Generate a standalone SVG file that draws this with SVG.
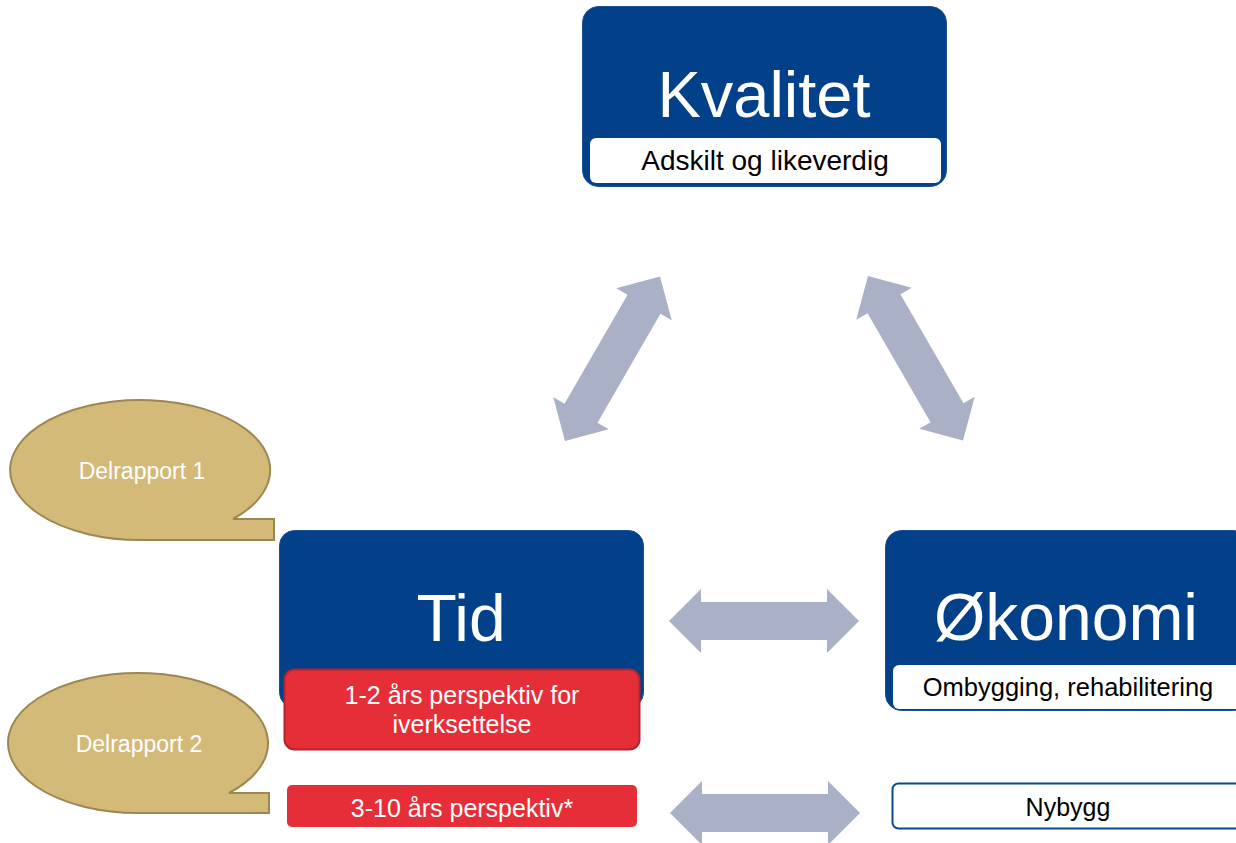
<svg xmlns="http://www.w3.org/2000/svg" width="1236" height="843" viewBox="0 0 1236 843">
<defs>
<style>
.blue{fill:#02418A;stroke:#1A4F90;stroke-width:1}
.sub{fill:#FFFFFF}
.title{font-family:"Liberation Sans",Arial,sans-serif;fill:#FFFFFF;text-anchor:middle}
.txt{font-family:"Liberation Sans",Arial,sans-serif;text-anchor:middle}
.bubble{fill:#D4BA78;stroke:#9C8752;stroke-width:2}
.red{fill:#E62E38}
.arrow{fill:#AAB0C6}
</style>
<path id="dbl" d="M0,0 L32,-32 L32,-19 L158,-19 L158,-32 L190,0 L158,32 L158,19 L32,19 L32,32 Z"/>
</defs>
<rect width="1236" height="843" fill="#FFFFFF"/>
<g id="connectors">
<use href="#dbl" class="arrow" transform="translate(565,441) rotate(-60)"/>
<use href="#dbl" class="arrow" transform="translate(868,276) rotate(60)"/>
<use href="#dbl" class="arrow" transform="translate(669,621)"/>
<use href="#dbl" class="arrow" transform="translate(670,813)"/>
</g>
<g id="kvalitet">
<rect class="blue" x="582.5" y="6.5" width="364" height="180" rx="16"/>
<rect class="sub" x="590" y="138" width="351" height="45" rx="6"/>
<text class="title" x="764" y="117" font-size="65">Kvalitet</text>
<text class="txt" x="765" y="170" font-size="28" fill="#000000">Adskilt og likeverdig</text>
</g>
<g id="tid">
<rect class="blue" x="279.5" y="530.5" width="364" height="177" rx="15"/>
<text class="title" x="461" y="641" font-size="66">Tid</text>
</g>
<g id="tid-kort">
<rect class="red" x="284.5" y="669.5" width="355" height="80" rx="10" stroke="#B2252E" stroke-width="2"/>
<text class="txt" x="462" y="704" font-size="25" fill="#FFFFFF">1-2 års perspektiv for</text>
<text class="txt" x="462" y="733" font-size="25" fill="#FFFFFF">iverksettelse</text>
</g>
<g id="tid-lang">
<rect class="red" x="287" y="785" width="350" height="42" rx="5"/>
<text class="txt" x="462" y="817" font-size="25" fill="#FFFFFF">3-10 års perspektiv*</text>
</g>
<g id="okonomi">
<rect class="blue" x="885.5" y="530.5" width="364" height="180" rx="16"/>
<rect class="sub" x="893" y="665" width="351" height="44" rx="6"/>
<text class="title" x="1066" y="640" font-size="66">Økonomi</text>
<text class="txt" x="1068" y="696" font-size="25.5" fill="#000000">Ombygging, rehabilitering</text>
</g>
<g id="nybygg">
<rect x="892.5" y="783.5" width="360" height="45" rx="6" fill="#FFFFFF" stroke="#0A4A8C" stroke-width="2"/>
<text class="txt" x="1068" y="816" font-size="25" fill="#000000">Nybygg</text>
</g>
<g id="delrapport1">
<path class="bubble" d="M143,540 A130,70 0 1 1 233,519 L274,519 L274,540 Z"/>
<text class="txt" x="142" y="479" font-size="23" fill="#FFFFFF">Delrapport 1</text>
</g>
<g id="delrapport2">
<path class="bubble" d="M140,813 A130,70 0 1 1 229,793 L269,793 L269,813 Z"/>
<text class="txt" x="139" y="752" font-size="23" fill="#FFFFFF">Delrapport 2</text>
</g>
</svg>
